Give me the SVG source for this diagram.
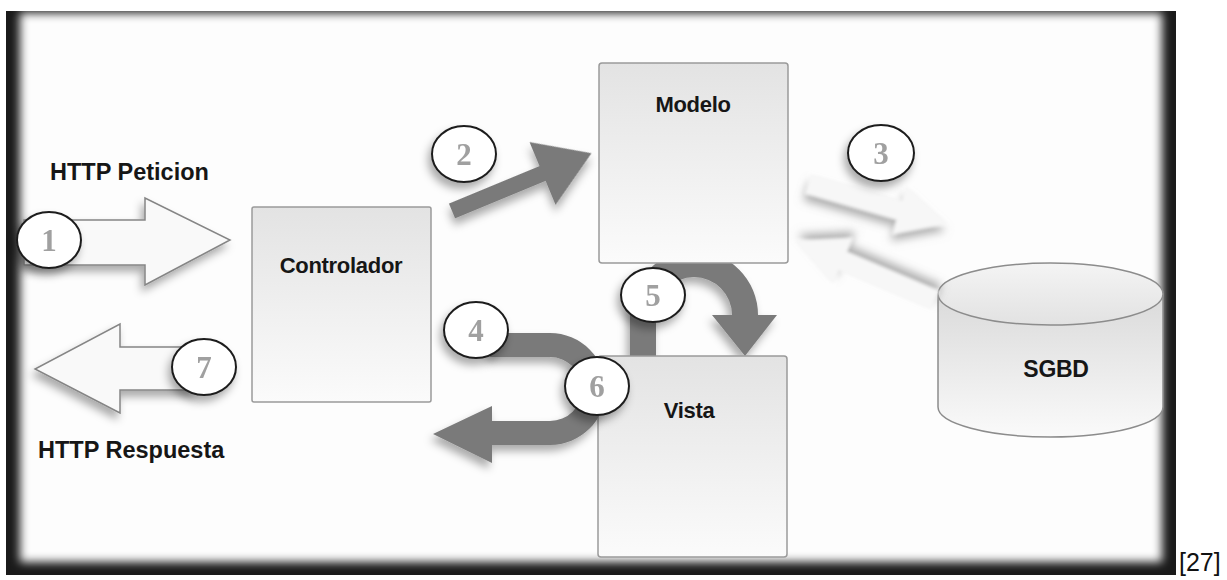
<svg xmlns="http://www.w3.org/2000/svg" width="1227" height="580" viewBox="0 0 1227 580">
  <style>
    .lbl { font-family: "Liberation Sans", Arial, sans-serif; font-weight: bold; fill: #161616; }
    .box { stroke: #9a9a9a; stroke-width: 1.5; fill: url(#boxFill); }
    .step { fill: #ffffff; stroke: #1e1e1e; stroke-width: 2; }
    .num { font-family: "Liberation Serif", "Times New Roman", serif; font-weight: bold; font-size: 31px; fill: #a0a0a0; text-anchor: middle; }
    .flow { fill: #7a7a7a; }
    .hollow { fill: #f9f9f9; stroke: #858585; stroke-width: 1.5; }
    .ghost { fill: #f7f7f7; }
  </style>
  <defs>
    <linearGradient id="boxFill" x1="0" y1="0" x2="0" y2="1">
      <stop offset="0" stop-color="#e3e3e3"/>
      <stop offset="1" stop-color="#fbfbfb"/>
    </linearGradient>
    <linearGradient id="cylBody" x1="0" y1="0" x2="0" y2="1">
      <stop offset="0" stop-color="#dadada"/>
      <stop offset="1" stop-color="#fafafa"/>
    </linearGradient>
    <linearGradient id="cylTop" x1="0" y1="0" x2="0" y2="1">
      <stop offset="0" stop-color="#f4f4f4"/>
      <stop offset="1" stop-color="#e2e2e2"/>
    </linearGradient>
    <filter id="shadow" x="-30%" y="-30%" width="160%" height="170%">
      <feDropShadow dx="-3" dy="6" stdDeviation="4" flood-color="#000" flood-opacity="0.33"/>
    </filter>
    <filter id="ghostShadow" x="-30%" y="-50%" width="160%" height="220%">
      <feGaussianBlur in="SourceGraphic" stdDeviation="1.5"/>
      <feDropShadow dx="0" dy="7" stdDeviation="4.5" flood-color="#7a7a7a" flood-opacity="0.6"/>
    </filter>
    <filter id="edgeBlur" x="-5%" y="-5%" width="110%" height="110%">
      <feGaussianBlur stdDeviation="5"/>
    </filter>
    <clipPath id="frameClip">
      <rect x="6" y="11" width="1170" height="564"/>
    </clipPath>
  </defs>

  <!-- dark vignette frame -->
  <g id="frame" clip-path="url(#frameClip)">
    <rect x="6" y="11" width="1170" height="564" fill="#1a1a1a"/>
    <rect x="20" y="13" width="1142" height="549" fill="#fdfdfd" filter="url(#edgeBlur)"/>
  </g>

  <!-- request / response captions -->
  <text class="lbl" x="50" y="180" font-size="23.5">HTTP Peticion</text>
  <text class="lbl" x="38" y="458" font-size="23.5">HTTP Respuesta</text>

  <g id="connectors">
    <!-- 5: model to view, loops behind the boxes -->
    <path id="flow-5" class="flow" filter="url(#shadow)" d="M630,356 L630,315 A64,64 0 0 1 758,315 L777,315 L745,356 L712,315 L732,315 A38,38 0 0 0 656,315 L656,356 Z"/>
  </g>

  <g id="node-controlador">
    <rect class="box" x="252" y="207" width="179" height="195" rx="2"/>
    <text class="lbl" x="341" y="273" font-size="22" letter-spacing="-0.3" text-anchor="middle">Controlador</text>
  </g>
  <g id="node-modelo">
    <rect class="box" x="599" y="63" width="189" height="200" rx="3"/>
    <text class="lbl" x="693" y="112" font-size="22" letter-spacing="-0.3" text-anchor="middle">Modelo</text>
  </g>
  <g id="node-vista">
    <rect class="box" x="598" y="356" width="189" height="201" rx="3"/>
    <text class="lbl" x="689" y="418" font-size="22" letter-spacing="-0.3" text-anchor="middle">Vista</text>
  </g>
  <g id="node-sgbd">
    <path d="M938,294 L938,407 A112.5,30 0 0 0 1163,407 L1163,294 Z" fill="url(#cylBody)" stroke="#8c8c8c" stroke-width="1.5"/>
    <ellipse cx="1050.5" cy="294" rx="112.5" ry="31" fill="url(#cylTop)" stroke="#8c8c8c" stroke-width="1.5"/>
    <text class="lbl" x="1056" y="377" font-size="23" letter-spacing="-0.3" text-anchor="middle">SGBD</text>
  </g>

  <g id="connectors-front">
    <!-- 1: HTTP request into controller -->
    <path id="flow-1" class="hollow" filter="url(#shadow)" d="M24,220 L145,220 L145,198 L230,240 L145,285 L145,265 L24,265 Z"/>
    <!-- 7: HTTP response out of controller -->
    <path id="flow-7" class="hollow" filter="url(#shadow)" d="M195,347 L120,347 L120,324 L35,369 L120,413 L120,390 L195,390 Z"/>
    <!-- 2: controller to model -->
    <path id="flow-2" class="flow" filter="url(#shadow)" transform="translate(452,211) rotate(-22.5)" d="M0,-8 L98,-8 L98,-34 L151,0 L98,34 L98,8 L0,8 Z"/>
    <!-- 3: model and database exchange -->
    <path id="flow-3a" class="ghost" filter="url(#ghostShadow)" transform="translate(808,184) rotate(16)" d="M0,-10 L95,-10 L95,-25 L145,0 L95,25 L95,10 L0,10 Z"/>
    <path id="flow-3b" class="ghost" filter="url(#ghostShadow)" transform="translate(935,300) rotate(203)" d="M0,-10 L100,-10 L100,-25 L152,0 L100,25 L100,10 L0,10 Z"/>
    <!-- 4 and 6: view back to controller -->
    <path id="flow-46" class="flow" filter="url(#shadow)" d="M490,333 L550,333 A56,56 0 0 1 550,445 L492,445 L492,463 L433,434 L492,406 L492,421 L550,421 A32,32 0 0 0 550,357 L490,357 Z"/>
  </g>

  <g id="steps">
    <g id="step-1" filter="url(#shadow)"><ellipse class="step" cx="49" cy="240" rx="32" ry="28"/><text class="num" x="49" y="251">1</text></g>
    <g id="step-2" filter="url(#shadow)"><ellipse class="step" cx="464" cy="154" rx="32" ry="28"/><text class="num" x="464" y="165">2</text></g>
    <g id="step-3" filter="url(#shadow)"><ellipse class="step" cx="881" cy="153" rx="33" ry="28"/><text class="num" x="881" y="164">3</text></g>
    <g id="step-4" filter="url(#shadow)"><ellipse class="step" cx="476" cy="330" rx="32" ry="28"/><text class="num" x="476" y="341">4</text></g>
    <g id="step-5" filter="url(#shadow)"><ellipse class="step" cx="653" cy="295" rx="32" ry="27"/><text class="num" x="653" y="306">5</text></g>
    <g id="step-6" filter="url(#shadow)"><ellipse class="step" cx="597" cy="386" rx="32" ry="29"/><text class="num" x="597" y="397">6</text></g>
    <g id="step-7" filter="url(#shadow)"><ellipse class="step" cx="204" cy="367" rx="32" ry="28"/><text class="num" x="204" y="378">7</text></g>
  </g>

  <text x="1179" y="571" font-family="'Liberation Sans', Arial, sans-serif" font-size="25" fill="#111">[27]</text>
</svg>
